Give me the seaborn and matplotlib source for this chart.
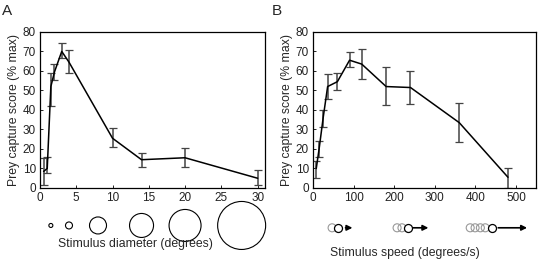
import numpy as np
import pandas as pd
import seaborn as sns
import matplotlib.pyplot as plt
from matplotlib.transforms import blended_transform_factory

# panel A: stimulus diameter
diam = [0.5, 1, 1.5, 2, 3, 4, 10, 14, 20, 30]
diam_score = [8.5, 10, 52, 59.5, 70, 64.5, 25.5, 14.5, 15.5, 5]
diam_lo = [1.5, 7.7, 42, 55.4, 66.4, 58.8, 21, 11, 11, 1.5]
diam_hi = [15.5, 16, 59, 63.4, 74.5, 70.5, 30.5, 18, 20.5, 9]

# panel B: stimulus speed
speed = [8, 15, 25, 36, 60, 90, 120, 180, 240, 360, 480]
speed_score = [10, 20, 36, 52, 54.5, 65.5, 63.5, 52, 51.5, 33.5, 5.5]
speed_lo = [5, 16, 31.5, 45.8, 50, 62, 56, 42.5, 43, 23.5, 0]
speed_hi = [14, 24, 40, 58.5, 59, 69.5, 71.5, 62, 60, 43.5, 10]

# stimulus icons under the axes
circ_x = [1.5, 4, 8, 14, 20, 27.8]
circ_px = [4, 7, 17, 24, 32, 48]
ghost_x = [[47], [207, 219], [387, 399, 412, 424]]
solid_x = [61, 233, 440]
arrow_x = [(80, 97), (247, 284), (456, 527)]

sns.set_style("white")
plt.rcParams['font.family'] = ['Liberation Sans', 'DejaVu Sans']

fig = plt.figure(figsize=(5.38, 2.61), dpi=100)
axA = fig.add_axes([0.0743, 0.2797, 0.418, 0.598])
axB = fig.add_axes([0.5818, 0.2797, 0.4145, 0.598])

def panel(ax, x, y, lo, hi, xlim, xticks):
    df = pd.DataFrame({'x': x, 'y': y})
    y = np.array(y)
    yerr = [y - np.array(lo), np.array(hi) - y]
    ax.errorbar(x, y, yerr=yerr, fmt='none', ecolor='#444444',
                elinewidth=1.1, capsize=3, capthick=0.9, zorder=2)
    sns.lineplot(data=df, x='x', y='y', ax=ax, color='black', lw=1.1, zorder=3)
    ax.set_xlim(*xlim)
    ax.set_ylim(0, 80)
    ax.set_xticks(xticks)
    ax.set_yticks(range(0, 81, 10))
    ax.tick_params(direction='in', length=2.5, width=0.7, labelsize=8.5,
                   pad=3, colors='#222222', bottom=True, left=True)
    ax.set_xlabel('')
    ax.set_ylabel('Prey capture score (% max)', fontsize=8.8, labelpad=2)
    for s in ax.spines.values():
        s.set_color('black')
        s.set_linewidth(0.9)

panel(axA, diam, diam_score, diam_lo, diam_hi, (0, 31), range(0, 31, 5))
panel(axB, speed, speed_score, speed_lo, speed_hi, (0, 549), range(0, 501, 100))

# circles for diameter
trA = blended_transform_factory(axA.transData, axA.transAxes)
sizes = [(p * 0.72) ** 2 for p in circ_px]
axA.scatter(circ_x, [-0.24] * len(circ_x), s=sizes, facecolors='none',
            edgecolors='black', linewidths=0.8, transform=trA, clip_on=False)

# ghost circles and arrows for speed
trB = blended_transform_factory(axB.transData, axB.transAxes)
icon_y = -0.255
for g, sx, (a0, a1) in zip(ghost_x, solid_x, arrow_x):
    axB.scatter(g, [icon_y] * len(g), s=(8 * 0.72) ** 2, facecolors='none',
                edgecolors='#999999', linewidths=0.8, transform=trB, clip_on=False)
    axB.scatter([sx], [icon_y], s=(8 * 0.72) ** 2, facecolors='white',
                edgecolors='black', linewidths=0.9, transform=trB, clip_on=False, zorder=4)
    axB.annotate('', xy=(a1, icon_y), xytext=(a0, icon_y), xycoords=trB, textcoords=trB,
                 arrowprops=dict(arrowstyle='-|>', color='black', lw=1.2,
                                 mutation_scale=8, shrinkA=0, shrinkB=0),
                 annotation_clip=False)

fig.text(135 / 538, 1 - 244 / 261, 'Stimulus diameter (degrees)', ha='center', va='center', fontsize=8.8)
fig.text(405 / 538, 1 - 253 / 261, 'Stimulus speed (degrees/s)', ha='center', va='center', fontsize=8.8)
fig.text(0.003, 0.985, 'A', ha='left', va='top', fontsize=11)
fig.text(272 / 538, 0.985, 'B', ha='left', va='top', fontsize=11)

fig.savefig('out.png', dpi=100)
